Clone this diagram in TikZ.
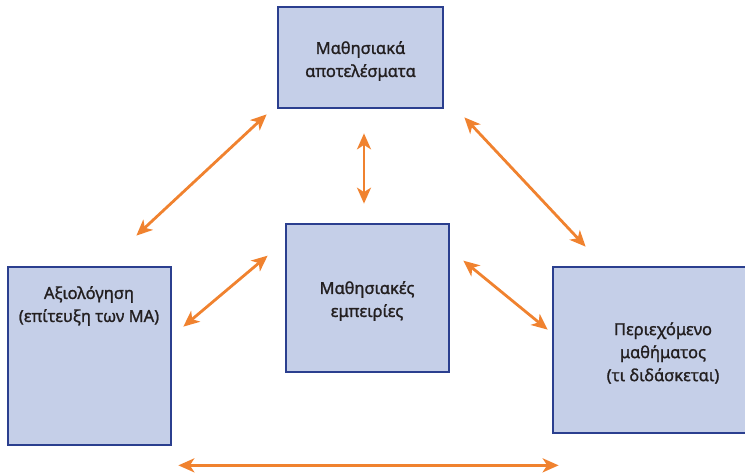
\documentclass[tikz,border=0pt]{standalone}
\usepackage{fontspec}
\setmainfont{Noto Sans}
\newfontfamily\boxfont{Noto Sans}[BoldFont={Noto Sans}, BoldFeatures={FakeBold=1.3}]
\usepackage{xcolor}
\usetikzlibrary{arrows.meta}
\definecolor{boxfill}{HTML}{C5CFE8}
\definecolor{boxline}{HTML}{2B3F8F}
\definecolor{linkorange}{HTML}{F0822F}
\definecolor{labeltext}{HTML}{231F20}
\tikzstyle{areaBox}=[draw=boxline, fill=boxfill, line width=2.7pt]
\tikzstyle{areaText}=[align=center, text=labeltext, font=\boxfont\bfseries\fontsize{16.5}{23}\selectfont]
\tikzstyle{mutualLink}=[linkorange, line width=2.8pt, {Stealth[length=16pt,width=14pt,inset=4.5pt]}-{Stealth[length=16pt,width=14pt,inset=4.5pt]}]

\begin{document}
\begin{tikzpicture}[x=1pt, y=-1pt]
  \clip (0,0) rectangle (745,474);
  % Nodes
  \node (outcomes) at (360.5,57.5) [areaBox, minimum width=165pt, minimum height=101pt] {};
  \node (outcomestext) at (360.5,61) [areaText] {Μαθησιακά\\αποτελέσματα};

  \node (experiences) at (367.5,298) [areaBox, minimum width=163pt, minimum height=148pt] {};
  \node (experiencestext) at (367,301) [areaText] {Μαθησιακές\\εμπειρίες};

  \node (assessment) at (89.5,356) [areaBox, minimum width=163pt, minimum height=178pt] {};
  \node (assessmenttext) at (89,306) [areaText] {Αξιολόγηση\\(επίτευξη των ΜΑ)};

  \node (content) at (663,350) [areaBox, minimum width=220pt, minimum height=166pt] {};
  \node (contenttext) at (663,353) [areaText] {Περιεχόμενο\\μαθήματος\\(τι διδάσκεται)};

  % Links
  \draw[mutualLink] ([shift={(-36,-30)}]assessment.north east) -- ([shift={(-10,5)}]outcomes.south west);
  \draw[mutualLink] ([shift={(3.5,24)}]outcomes.south) -- ([shift={(-3.5,-19)}]experiences.north);
  \draw[mutualLink] ([shift={(20,8)}]outcomes.south east) -- ([shift={(34,-19)}]content.north west);
  \draw[mutualLink] ([shift={(11,61)}]assessment.north east) -- ([shift={(-17,33)}]experiences.north west);
  \draw[mutualLink] ([shift={(13,38)}]experiences.north east) -- ([shift={(-4,64)}]content.north west);
  \draw[mutualLink] ([shift={(6,19)}]assessment.south east) -- ([shift={(7,31)}]content.south west);

\end{tikzpicture}
\end{document}
